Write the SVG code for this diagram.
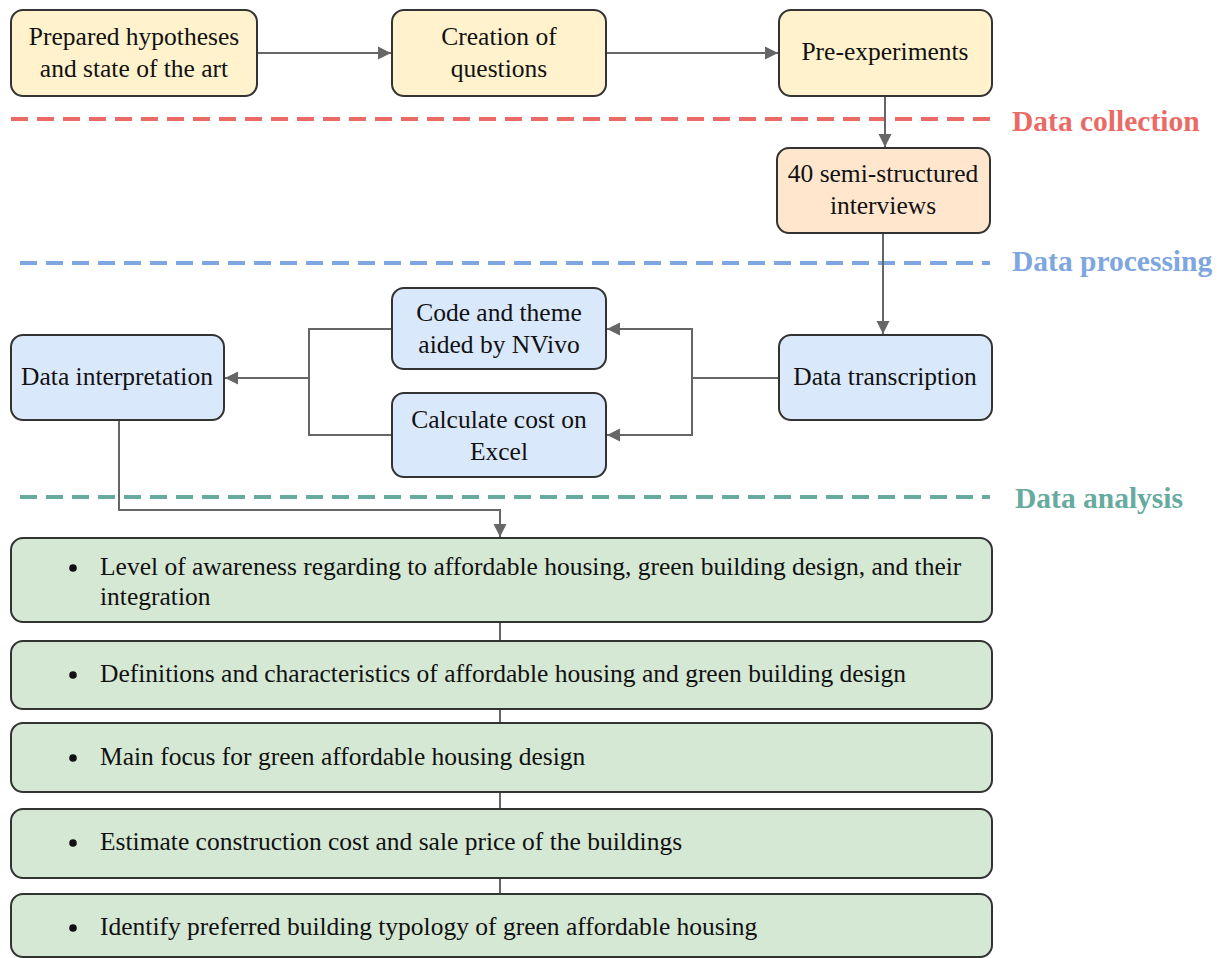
<svg xmlns="http://www.w3.org/2000/svg" width="1225" height="958" viewBox="0 0 1225 958">
<defs>
<marker id="ah" markerWidth="14" markerHeight="14" refX="13" refY="7" orient="auto" markerUnits="userSpaceOnUse"><path d="M0,0.5 L13,7 L0,13.5 Z" fill="#666666"/></marker>
<style>
.box{stroke:#333333;stroke-width:2}
.y{fill:#FFF2CC}.o{fill:#FFE6CC}.b{fill:#DAE8FC}.g{fill:#D5E8D4}
.t{font-family:"Liberation Serif","Times New Roman",serif;font-size:25.5px;fill:#111111}
.c{text-anchor:middle}
.con{stroke:#666666;stroke-width:2;fill:none}
.lbl{font-family:"Liberation Serif","Times New Roman",serif;font-size:29.5px;font-weight:bold}
.dash{stroke-width:4;stroke-dasharray:17 9;fill:none}
</style>
</defs>
<rect width="1225" height="958" fill="#ffffff"/>
<g id="phases">
<line class="dash" x1="11" y1="119" x2="990" y2="119" stroke="#EA6B66"/>
<text class="lbl" x="1012" y="131" fill="#EA6B66">Data collection</text>
<line class="dash" x1="20" y1="263" x2="990" y2="263" stroke="#7EA6E0"/>
<text class="lbl" x="1012" y="271" fill="#7EA6E0">Data processing</text>
<line class="dash" x1="20" y1="497" x2="990" y2="497" stroke="#67AB9F"/>
<text class="lbl" x="1015" y="508" fill="#67AB9F">Data analysis</text>
</g>
<g id="connectors">
<line class="con" x1="257" y1="53" x2="391" y2="53" marker-end="url(#ah)"/>
<line class="con" x1="606" y1="53" x2="778" y2="53" marker-end="url(#ah)"/>
<line class="con" x1="885" y1="96" x2="885" y2="147" marker-end="url(#ah)"/>
<line class="con" x1="883" y1="233" x2="883" y2="334" marker-end="url(#ah)"/>
<polyline class="con" points="779,378 692,378 692,329 607,329" marker-end="url(#ah)"/>
<polyline class="con" points="692,378 692,435 607,435" marker-end="url(#ah)"/>
<polyline class="con" points="392,329 309,329 309,435 392,435"/>
<line class="con" x1="309" y1="378" x2="225" y2="378" marker-end="url(#ah)"/>
<polyline class="con" points="119,420 119,510 500,510 500,537" marker-end="url(#ah)"/>
<line class="con" x1="500" y1="622" x2="500" y2="641"/>
<line class="con" x1="500" y1="709" x2="500" y2="723"/>
<line class="con" x1="500" y1="792" x2="500" y2="809"/>
<line class="con" x1="500" y1="878" x2="500" y2="894"/>
</g>
<g id="n1"><rect class="box y" x="11" y="10" width="246" height="86" rx="12"/>
<text class="t c" x="134" y="45">Prepared hypotheses</text><text class="t c" x="134" y="77">and state of the art</text></g>
<g id="n2"><rect class="box y" x="392" y="10" width="214" height="86" rx="12"/>
<text class="t c" x="499" y="45">Creation of</text><text class="t c" x="499" y="77">questions</text></g>
<g id="n3"><rect class="box y" x="779" y="10" width="213" height="86" rx="12"/>
<text class="t c" x="885" y="60">Pre-experiments</text></g>
<g id="n4"><rect class="box o" x="777" y="148" width="213" height="85" rx="12"/>
<text class="t c" x="883" y="182">40 semi-structured</text><text class="t c" x="883" y="214">interviews</text></g>
<g id="n5"><rect class="box b" x="779" y="335" width="213" height="85" rx="12"/>
<text class="t c" x="885" y="385">Data transcription</text></g>
<g id="n6"><rect class="box b" x="392" y="288" width="214" height="81" rx="12"/>
<text class="t c" x="499" y="321">Code and theme</text><text class="t c" x="499" y="353">aided by NVivo</text></g>
<g id="n7"><rect class="box b" x="392" y="393" width="214" height="84" rx="12"/>
<text class="t c" x="499" y="428">Calculate cost on</text><text class="t c" x="499" y="460">Excel</text></g>
<g id="n8"><rect class="box b" x="11" y="335" width="213" height="85" rx="12"/>
<text class="t c" x="117" y="385">Data interpretation</text></g>
<g id="g1"><rect class="box g" x="11" y="538" width="981" height="84" rx="12"/>
<circle cx="73" cy="568" r="3.8" fill="#111"/>
<text class="t" x="100" y="575">Level of awareness regarding to affordable housing, green building design, and their</text>
<text class="t" x="100" y="605">integration</text></g>
<g id="g2"><rect class="box g" x="11" y="641" width="981" height="68" rx="12"/>
<circle cx="73" cy="675" r="3.8" fill="#111"/>
<text class="t" x="100" y="682">Definitions and characteristics of affordable housing and green building design</text></g>
<g id="g3"><rect class="box g" x="11" y="723" width="981" height="69" rx="12"/>
<circle cx="73" cy="758" r="3.8" fill="#111"/>
<text class="t" x="100" y="765">Main focus for green affordable housing design</text></g>
<g id="g4"><rect class="box g" x="11" y="809" width="981" height="69" rx="12"/>
<circle cx="73" cy="843" r="3.8" fill="#111"/>
<text class="t" x="100" y="850">Estimate construction cost and sale price of the buildings</text></g>
<g id="g5"><rect class="box g" x="11" y="894" width="981" height="63" rx="12"/>
<circle cx="73" cy="928" r="3.8" fill="#111"/>
<text class="t" x="100" y="935">Identify preferred building typology of green affordable housing</text></g>
</svg>
